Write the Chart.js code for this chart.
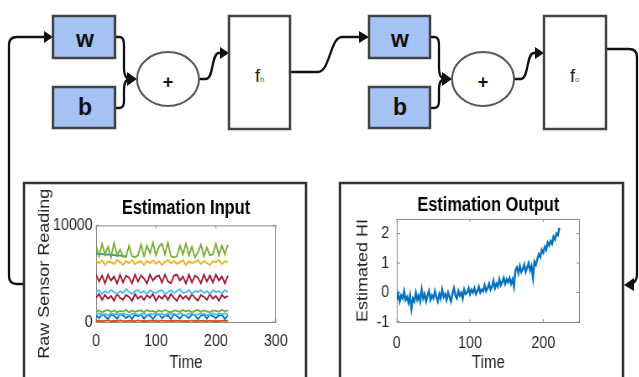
<!DOCTYPE html>
<html>
<head>
<meta charset="utf-8">
<title>Estimation network</title>
<script src="https://cdn.jsdelivr.net/npm/chart.js"></script>
<style>
  html, body { margin: 0; padding: 0; background: #fff; }
  #page { position: relative; width: 639px; height: 377px; overflow: hidden; font-family: "Liberation Sans", Arial, sans-serif; }
  svg { position: absolute; left: 0; top: 0; }
  .wrap { position: absolute; top: 188px; height: 189px; transform: scaleX(0.84); transform-origin: 0 0; }
</style>
</head>
<body>
<div id="page">
  <svg width="639" height="377" viewBox="0 0 639 377">
    <g stroke="#111" stroke-width="2.3" fill="none">
      <!-- loop back into first w -->
      <path d="M25,284 H17 Q9,284 9,276 V45 Q9,37 17,37 H46"/>
      <!-- w,b into first sum -->
      <path d="M115,37 H119 Q124,37 124,44 V68 Q124,79 130,79"/>
      <path d="M115,108 H119 Q124,108 124,101 V90 Q124,79 130,79"/>
      <path d="M199,79 H206 C214,79 211,53 219,53 H222"/>
      <!-- f_h to second w -->
      <path d="M290,72 H318 C330,72 330,37 342,37 H361"/>
      <path d="M430,37 H434 Q439,37 439,44 V68 Q439,79 445,79"/>
      <path d="M430,108 H434 Q439,108 439,101 V90 Q439,79 445,79"/>
      <path d="M514,79 H521 C529,79 526,53 534,53 H537"/>
      <!-- f_o back to output box -->
      <path d="M606,49 H629 Q637,49 637,57 V274 Q637,283 630,284"/>
    </g>
    <g fill="#111">
      <polygon points="44,31 53,37 44,43"/>
      <polygon points="127,72 137,79 127,86"/>
      <polygon points="220,47 229,53 220,59"/>
      <polygon points="359,31 369,37 359,43"/>
      <polygon points="442,72 452,79 442,86"/>
      <polygon points="535,47 544,53 535,59"/>
      <polygon points="634,278 624,285 634,291"/>
    </g>
    <g stroke="#434343" stroke-width="2.5">
      <rect x="53" y="16" width="62" height="42" fill="#a4c2f4"/>
      <rect x="53" y="87" width="62" height="41" fill="#a4c2f4"/>
      <rect x="229" y="16" width="61" height="113" fill="#fff"/>
      <rect x="369" y="16" width="61" height="42" fill="#a4c2f4"/>
      <rect x="369" y="87" width="61" height="41" fill="#a4c2f4"/>
      <rect x="544" y="16" width="62" height="113" fill="#fff"/>
      <rect x="24" y="183" width="282" height="210" fill="#fff" stroke="#333"/>
      <rect x="340" y="183" width="283" height="210" fill="#fff" stroke="#333"/>
    </g>
    <g stroke="#5a5a5a" stroke-width="2" fill="#fff">
      <ellipse cx="168" cy="79" rx="31" ry="27"/>
      <ellipse cx="483" cy="79" rx="31" ry="27"/>
    </g>
    <g font-family="Liberation Sans, Arial, sans-serif" fill="#111" text-anchor="middle">
      <text x="85" y="47" font-size="23" font-weight="bold">w</text>
      <text x="85" y="115" font-size="23" font-weight="bold">b</text>
      <text x="400" y="47" font-size="23" font-weight="bold">w</text>
      <text x="400" y="115" font-size="23" font-weight="bold">b</text>
      <text x="168" y="88" font-size="18" font-weight="bold">+</text>
      <text x="483" y="88" font-size="18" font-weight="bold">+</text>
    </g>
    <g font-family="Liberation Sans, Arial, sans-serif" fill="#222">
      <text x="255" y="82" font-size="18">f<tspan font-size="8" fill="#666">h</tspan></text>
      <text x="570" y="82" font-size="18">f<tspan font-size="8" fill="#666">o</tspan></text>
    </g>
  </svg>
  <div class="wrap" style="left:28px; width:328px;"><canvas id="inputChart" width="328" height="189"></canvas></div>
  <div class="wrap" style="left:343px; width:330px;"><canvas id="outputChart" width="330" height="189"></canvas></div>
</div>

<script>
// ---- data ----
const inputTimes = [
  0, 5, 10, 15, 20, 25, 30, 35, 40, 45, 50, 55, 60, 65, 70,
  75, 80, 85, 90, 95, 100, 105, 110, 115, 120, 125, 130, 135, 140, 145,
  150, 155, 160, 165, 170, 175, 180, 185, 190, 195, 200, 205, 210, 215, 220
];
const greenHigh = [
  7900, 6800, 8100, 7000, 7800, 6700, 8200, 6900, 7500, 6800, 6700, 7900, 6800, 6700, 6900,
  8000, 6800, 7900, 7100, 8200, 6900, 7800, 8100, 7000, 8200, 6800, 6700, 6800, 7900, 7000,
  8100, 6900, 7800, 6700, 7200, 8000, 6800, 7700, 6900, 7000, 8100, 6900, 7900, 7000, 8000
];
const yellowMid = [
  6300, 6100, 6400, 5900, 6300, 6200, 6000, 6400, 6200, 5900, 6300, 6100, 6400, 6000, 6200,
  6300, 5900, 6300, 6100, 6400, 6000, 6300, 5900, 6200, 6400, 6100, 6300, 6000, 6200, 6400,
  5900, 6300, 6100, 6200, 6400, 6000, 6300, 6100, 5900, 6300, 6200, 6400, 6000, 6300, 6200
];
const redMid = [
  4900, 4200, 4800, 4000, 4900, 4300, 4700, 4000, 4900, 4100, 4800, 4600, 4000, 4900, 4200,
  4800, 4500, 4000, 4900, 4300, 4700, 4800, 4100, 4900, 4200, 4000, 4800, 4900, 4300, 4700,
  4000, 4900, 4100, 4800, 4600, 4000, 4900, 4200, 4800, 4100, 4900, 4300, 4700, 4000, 4800
];
const cyanMid = [
  3100, 3300, 2900, 3200, 3000, 3300, 3100, 2900, 3200, 3000, 3400, 3100, 2900, 3200, 3300,
  3000, 3200, 2900, 3300, 3100, 3000, 3200, 3300, 2900, 3100, 3300, 3000, 3200, 3400, 3000,
  3100, 3300, 2900, 3200, 3100, 3300, 3000, 3200, 2900, 3300, 3100, 3200, 3000, 3300, 3100
];
const redLow = [
  2500, 2900, 2300, 2800, 2400, 2700, 2200, 2900, 2500, 2300, 2800, 2600, 2200, 2900, 2400,
  2700, 2300, 2800, 2500, 2900, 2200, 2700, 2400, 2800, 2300, 2900, 2500, 2200, 2800, 2400,
  2700, 2300, 2900, 2500, 2200, 2800, 2600, 2300, 2900, 2400, 2700, 2200, 2800, 2500, 2700
];
const greenLow = [
  1100, 1200, 1000, 1150, 1250, 1050, 1200, 1000, 1150, 1100, 1250, 1000, 1200, 1050, 1150,
  1200, 1000, 1250, 1100, 1150, 1000, 1200, 1050, 1250, 1100, 1000, 1200, 1150, 1050, 1250,
  1100, 1200, 1000, 1150, 1250, 1050, 1200, 1100, 1000, 1200, 1150, 1050, 1250, 1100, 1200
];
const cyanLow = [
  800, 900, 750, 850, 700, 900, 800, 850, 750, 900, 800, 700, 850, 900, 750,
  800, 900, 700, 850, 800, 900, 750, 850, 700, 900, 800, 850, 750, 900, 800,
  700, 850, 900, 750, 800, 900, 850, 700, 800, 900, 750, 850, 800, 900, 800
];
const blueLow = [
  700, 400, 800, 600, 300, 750, 650, 350, 800, 700, 400, 650, 300, 750, 600,
  800, 350, 700, 650, 300, 750, 800, 400, 650, 700, 300, 800, 600, 350, 750,
  650, 400, 800, 700, 300, 650, 750, 350, 800, 600, 400, 700, 750, 300, 700
];
const orangeBase = [
  100, 150, 80, 120, 160, 90, 130, 100, 170, 110, 80, 140, 120, 90, 160,
  100, 130, 80, 150, 110, 120, 90, 160, 100, 140, 80, 130, 110, 150, 90,
  120, 100, 160, 80, 140, 110, 130, 90, 150, 100, 120, 80, 140, 110, 130
];
const tealStart = [7100, 7000, 7050, 6950, 7000, 6900, 6950, 6850, 6900, 6800, 6850];

const outputTimes = [
  0, 2, 4, 6, 8, 10, 12, 14, 16, 18, 20, 22, 24, 26, 28, 30,
  32, 34, 36, 38, 40, 42, 44, 46, 48, 50, 52, 54, 56, 58, 60, 62,
  64, 66, 68, 70, 72, 74, 76, 78, 80, 82, 84, 86, 88, 90, 92, 94,
  96, 98, 100, 102, 104, 106, 108, 110, 112, 114, 116, 118, 120, 122, 124, 126,
  128, 130, 132, 134, 136, 138, 140, 142, 144, 146, 148, 150, 152, 154, 156, 158,
  160, 162, 164, 166, 168, 170, 172, 174, 176, 178, 180, 182, 184, 186, 188, 190,
  192, 194, 196, 198, 200, 202, 204, 206, 208, 210, 212, 214, 216, 218, 220, 222
];
const estimatedHI = [
  -0.25, -0.05, -0.3, -0.1, -0.2, 0.05, -0.25, -0.15, -0.35, -0.1, -0.55, -0.2, -0.3, 0.0, -0.25, -0.1,
  -0.3, 0.1, -0.2, -0.05, -0.3, -0.1, 0.05, -0.25, -0.1, -0.2, 0.05, -0.15, -0.3, -0.05, -0.2, 0.1,
  -0.15, -0.05, -0.25, 0.0, -0.15, -0.3, -0.05, 0.15, -0.1, -0.2, 0.05, -0.1, 0.0, -0.2, 0.1, -0.05,
  0.0, 0.15, -0.05, 0.1, 0.0, 0.15, -0.05, 0.05, 0.2, 0.0, 0.1, 0.05, 0.25, 0.05, 0.15, 0.3,
  0.1, 0.2, 0.4, 0.15, 0.3, 0.2, 0.45, 0.25, 0.35, 0.5, 0.3, 0.45, 0.35, 0.5, 0.3, 0.45,
  0.2, 0.75, 0.85, 0.65, 0.9, 0.7, 0.8, 0.95, 0.7, 0.85, 1.0, 0.75, 0.9, 0.5, 1.05, 0.95,
  1.15, 1.3, 1.2, 1.45, 1.35, 1.55, 1.45, 1.7, 1.6, 1.75, 1.65, 1.9, 1.8, 2.0, 1.95, 2.2
];

const inputTicksX = [0, 100, 200, 300];
const inputTicksY = [0, 10000];
const outputTicksX = [0, 100, 200];
const outputTicksY = [-1, 0, 1, 2];

// ---- helpers ----
Chart.defaults.font.family = '"Liberation Sans", Arial, sans-serif';
Chart.defaults.color = '#262626';

function pts(times, values) {
  return values.map((v, i) => ({x: times[i], y: v}));
}

function line(values, color, times, width) {
  return {
    data: pts(times || inputTimes, values),
    borderColor: color,
    borderWidth: width || 1.8,
    pointRadius: 0,
    tension: 0,
    fill: false
  };
}

// matlab style box with inward ticks
const matlabBox = {
  id: 'matlabBox',
  beforeDatasetsDraw(chart) {
    const {ctx, chartArea: a, scales} = chart;
    ctx.save();
    ctx.strokeStyle = '#8a8a8a';
    ctx.lineWidth = 1;
    ctx.strokeRect(a.left + 0.5, a.top + 0.5, a.right - a.left - 1, a.bottom - a.top);
    ctx.beginPath();
    scales.x.ticks.forEach(t => {
      const p = scales.x.getPixelForValue(t.value);
      ctx.moveTo(p, a.bottom); ctx.lineTo(p, a.bottom - 3);
      ctx.moveTo(p, a.top); ctx.lineTo(p, a.top + 3);
    });
    scales.y.ticks.forEach(t => {
      const p = scales.y.getPixelForValue(t.value);
      ctx.moveTo(a.left, p); ctx.lineTo(a.left + 4, p);
      ctx.moveTo(a.right, p); ctx.lineTo(a.right - 4, p);
    });
    ctx.stroke();
    ctx.restore();
  }
};

function axisX(min, max, tickVals, padding) {
  return {
    type: 'linear', min: min, max: max,
    afterBuildTicks: s => { s.ticks = tickVals.map(v => ({value: v})); },
    ticks: {padding: padding, font: {size: 17}, maxRotation: 0, autoSkip: false, callback: v => String(v)},
    grid: {display: false, drawTicks: false},
    border: {display: false},
    title: {display: true, text: 'Time', font: {size: 18}, padding: {top: 0, bottom: 3}},
    afterFit: s => { s.height = 55; }
  };
}

function axisY(min, max, tickVals, label, width, tickPad, titlePad) {
  return {
    type: 'linear', min: min, max: max,
    afterBuildTicks: s => { s.ticks = tickVals.map(v => ({value: v})); },
    ticks: {padding: tickPad, font: {size: 17}, autoSkip: false, callback: v => String(v)},
    grid: {display: false, drawTicks: false},
    border: {display: false},
    title: {display: true, text: label, font: {size: 18}, padding: {top: titlePad, bottom: 0}},
    afterFit: s => { s.width = width; }
  };
}

new Chart(document.getElementById('inputChart'), {
  type: 'line',
  data: {
    datasets: [
      line(greenHigh, '#77AC30'),
      line(tealStart, '#2f9c9c', inputTimes.slice(0, tealStart.length)),
      line(yellowMid, '#EDB120'),
      line(redMid, '#A2142F'),
      line(cyanMid, '#4DBEEE'),
      line(redLow, '#A2142F'),
      line(greenLow, '#77AC30'),
      line(cyanLow, '#4DBEEE'),
      line(blueLow, '#0072BD'),
      line(orangeBase, '#D95319')
    ]
  },
  options: {
    responsive: false,
    animation: false,
    devicePixelRatio: 1,
    layout: {padding: {left: 0, right: 33, top: 0, bottom: 0}},
    plugins: {
      legend: {display: false},
      tooltip: {enabled: false},
      title: {display: true, text: 'Estimation Input', color: '#000', fullSize: false,
              font: {size: 19.5, weight: 'bold'}, padding: {top: 9, bottom: 5}}
    },
    scales: {
      x: axisX(0, 300, inputTicksX, 9),
      y: axisY(0, 10000, inputTicksY, 'Raw Sensor Reading', 81, 4, 9)
    }
  },
  plugins: [matlabBox]
});

new Chart(document.getElementById('outputChart'), {
  type: 'line',
  data: {
    datasets: [line(estimatedHI, '#0072BD', outputTimes, 2.4)]
  },
  options: {
    responsive: false,
    animation: false,
    devicePixelRatio: 1,
    layout: {padding: {left: 0, right: 48, top: 0, bottom: 0}},
    plugins: {
      legend: {display: false},
      tooltip: {enabled: false},
      title: {display: true, text: 'Estimation Output', color: '#000', fullSize: false,
              font: {size: 19.5, weight: 'bold'}, padding: {top: 6, bottom: 1.5}}
    },
    scales: {
      x: axisX(0, 250, outputTicksX, 11),
      y: axisY(-1, 2.5, outputTicksY, 'Estimated HI', 64, 9, 13)
    }
  },
  plugins: [matlabBox]
});
</script>
</body>
</html>
